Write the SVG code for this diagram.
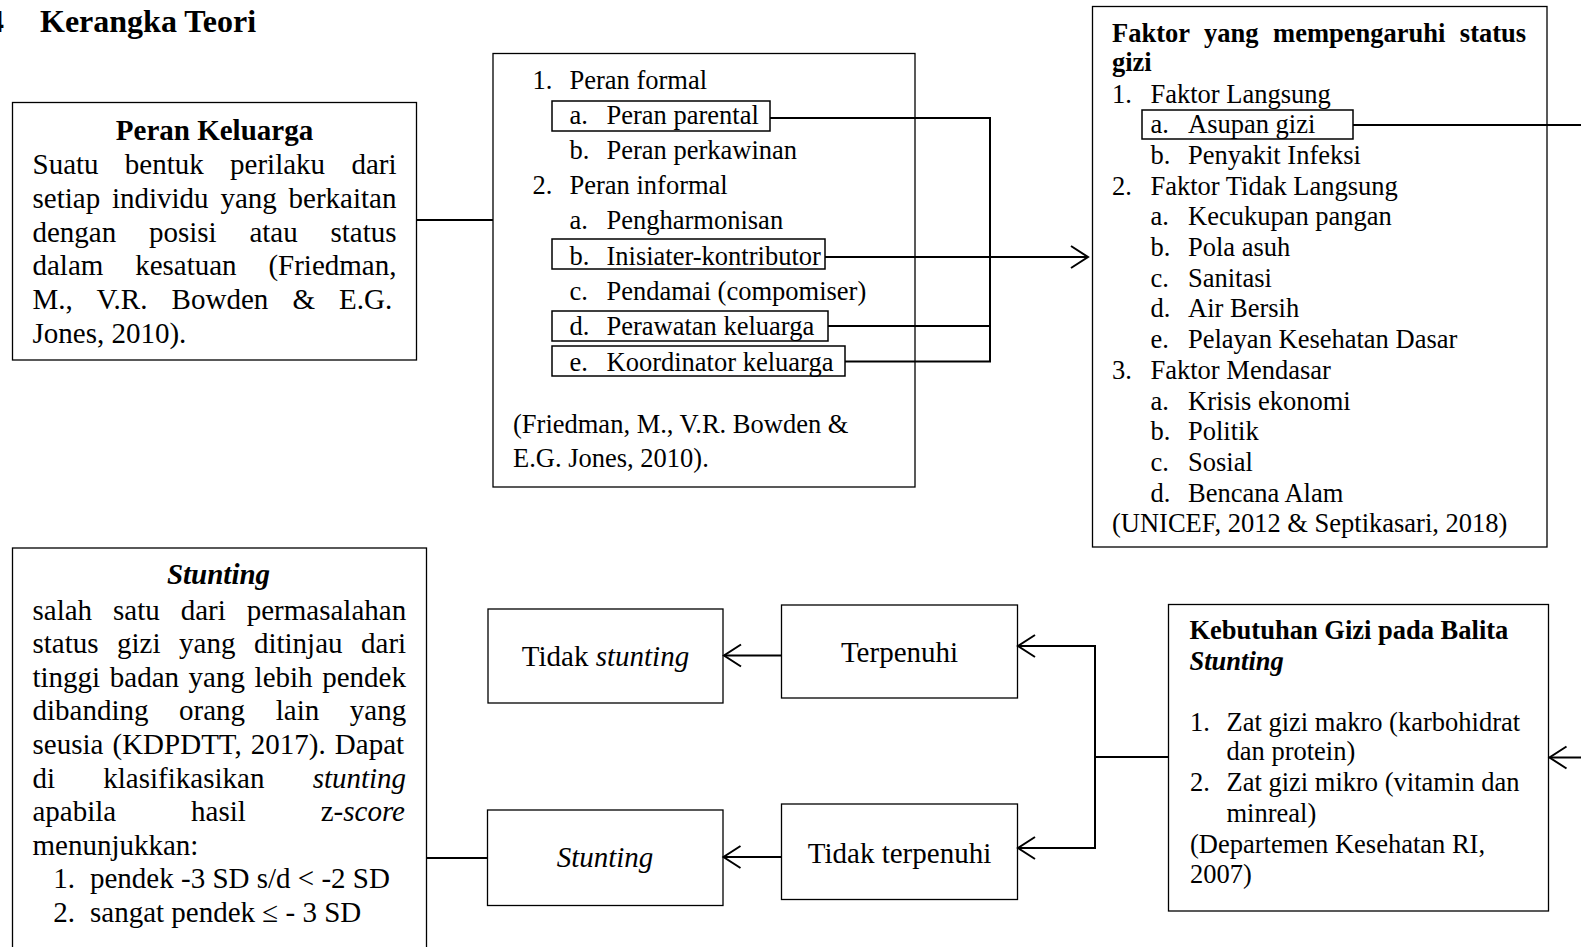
<svg xmlns="http://www.w3.org/2000/svg" width="1581" height="947" viewBox="0 0 1581 947">
<style>
.t{font-family:"Liberation Serif","Times New Roman",serif;fill:#000}
.s29{font-size:29px}
.s26{font-size:26.5px}
.b{font-weight:bold}
.i{font-style:italic}
.box{fill:#fff;stroke:#000;stroke-width:1.3}
.ibox{fill:none;stroke:#000;stroke-width:1.5}
.ln{fill:none;stroke:#000;stroke-width:2}
.mid{text-anchor:middle}
</style>
<defs>
<marker id="arr" markerWidth="24" markerHeight="26" refX="20" refY="13" orient="auto" markerUnits="userSpaceOnUse" viewBox="0 0 24 26">
<path d="M3,2 L20,13 L3,24" fill="none" stroke="#000" stroke-width="2"/>
</marker>
</defs>
<rect x="0" y="0" width="1581" height="947" fill="#fff"/>

<g id="title">
<text class="t b" x="-12" y="32" font-size="32">4</text>
<text class="t b" x="40" y="32" font-size="32">Kerangka Teori</text>
</g>

<g id="peran-keluarga">
<rect class="box" x="12.5" y="102.5" width="404" height="257.5"/>
<text class="t s29 b mid" x="214.5" y="140">Peran Keluarga</text>
<text class="t s29" x="32.5" y="174" style="word-spacing:19.05px">Suatu bentuk perilaku dari</text>
<text class="t s29" x="32.5" y="207.7" style="word-spacing:4.55px">setiap individu yang berkaitan</text>
<text class="t s29" x="32.5" y="241.5" style="word-spacing:25.5px">dengan posisi atau status</text>
<text class="t s29" x="32.5" y="275.2" style="word-spacing:24.55px">dalam kesatuan (Friedman,</text>
<text class="t s29" x="32.5" y="309" style="word-spacing:16.9px">M., V.R. Bowden &amp; E.G.</text>
<text class="t s29" x="32.5" y="342.7">Jones, 2010).</text>
</g>

<g id="peran-list">
<rect class="box" x="493" y="53.5" width="422" height="433.5"/>
<text class="t s26" x="532.5" y="88.5">1.</text>
<text class="t s26" x="569.5" y="88.5">Peran formal</text>
<rect class="ibox" x="552" y="101" width="218" height="30"/>
<text class="t s26" x="569.5" y="123.5">a.</text>
<text class="t s26" x="606.5" y="123.5">Peran parental</text>
<text class="t s26" x="569.5" y="158.5">b.</text>
<text class="t s26" x="606.5" y="158.5">Peran perkawinan</text>
<text class="t s26" x="532.5" y="194">2.</text>
<text class="t s26" x="569.5" y="194">Peran informal</text>
<text class="t s26" x="569.5" y="229.3">a.</text>
<text class="t s26" x="606.5" y="229.3">Pengharmonisan</text>
<rect class="ibox" x="552" y="239" width="273" height="30"/>
<text class="t s26" x="569.5" y="264.5">b.</text>
<text class="t s26" x="606.5" y="264.5">Inisiater-kontributor</text>
<text class="t s26" x="569.5" y="299.5">c.</text>
<text class="t s26" x="606.5" y="299.5">Pendamai (compomiser)</text>
<rect class="ibox" x="552" y="311" width="276" height="30"/>
<text class="t s26" x="569.5" y="335">d.</text>
<text class="t s26" x="606.5" y="335">Perawatan keluarga</text>
<rect class="ibox" x="552" y="346" width="293" height="30"/>
<text class="t s26" x="569.5" y="370.5">e.</text>
<text class="t s26" x="606.5" y="370.5">Koordinator keluarga</text>
<text class="t s26" x="513" y="432.5">(Friedman, M., V.R. Bowden &amp;</text>
<text class="t s26" x="513" y="467">E.G. Jones, 2010).</text>
</g>

<g id="faktor">
<rect class="box" x="1092.5" y="6.5" width="454.5" height="540.5"/>
<text class="t s26 b" x="1112" y="42" style="word-spacing:7.9px">Faktor yang mempengaruhi status</text>
<text class="t s26 b" x="1112" y="71">gizi</text>
<text class="t s26" x="1112" y="102.5">1.</text>
<text class="t s26" x="1150.5" y="102.5">Faktor Langsung</text>
<rect class="ibox" x="1142" y="110" width="211" height="29"/>
<text class="t s26" x="1150.5" y="133.2">a.</text>
<text class="t s26" x="1188" y="133.2">Asupan gizi</text>
<text class="t s26" x="1150.5" y="163.9">b.</text>
<text class="t s26" x="1188" y="163.9">Penyakit Infeksi</text>
<text class="t s26" x="1112" y="194.6">2.</text>
<text class="t s26" x="1150.5" y="194.6">Faktor Tidak Langsung</text>
<text class="t s26" x="1150.5" y="225.3">a.</text>
<text class="t s26" x="1188" y="225.3">Kecukupan pangan</text>
<text class="t s26" x="1150.5" y="256">b.</text>
<text class="t s26" x="1188" y="256">Pola asuh</text>
<text class="t s26" x="1150.5" y="286.7">c.</text>
<text class="t s26" x="1188" y="286.7">Sanitasi</text>
<text class="t s26" x="1150.5" y="317.4">d.</text>
<text class="t s26" x="1188" y="317.4">Air Bersih</text>
<text class="t s26" x="1150.5" y="348.1">e.</text>
<text class="t s26" x="1188" y="348.1">Pelayan Kesehatan Dasar</text>
<text class="t s26" x="1112" y="378.8">3.</text>
<text class="t s26" x="1150.5" y="378.8">Faktor Mendasar</text>
<text class="t s26" x="1150.5" y="409.5">a.</text>
<text class="t s26" x="1188" y="409.5">Krisis ekonomi</text>
<text class="t s26" x="1150.5" y="440.2">b.</text>
<text class="t s26" x="1188" y="440.2">Politik</text>
<text class="t s26" x="1150.5" y="470.9">c.</text>
<text class="t s26" x="1188" y="470.9">Sosial</text>
<text class="t s26" x="1150.5" y="501.6">d.</text>
<text class="t s26" x="1188" y="501.6">Bencana Alam</text>
<text class="t s26" x="1112" y="532.3">(UNICEF, 2012 &amp; Septikasari, 2018)</text>
</g>

<g id="stunting-def">
<rect class="box" x="12.5" y="548" width="414" height="420"/>
<text class="t s29 b i mid" x="218.5" y="584">Stunting</text>
<text class="t s29" x="32.5" y="619.5" style="word-spacing:13.7px">salah satu dari permasalahan</text>
<text class="t s29" x="32.5" y="653.1" style="word-spacing:11.25px">status gizi yang ditinjau dari</text>
<text class="t s29" x="32.5" y="686.7" style="word-spacing:2.35px">tinggi badan yang lebih pendek</text>
<text class="t s29" x="32.5" y="720.3" style="word-spacing:23.35px">dibanding orang lain yang</text>
<text class="t s29" x="32.5" y="753.9" style="word-spacing:1.9px">seusia (KDPDTT, 2017). Dapat</text>
<text class="t s29" x="32.5" y="787.5" style="word-spacing:41px">di klasifikasikan <tspan class="i">stunting</tspan></text>
<text class="t s29" x="32.5" y="821.1" style="word-spacing:67.6px">apabila hasil z-<tspan class="i">score</tspan></text>
<text class="t s29" x="32.5" y="854.7">menunjukkan:</text>
<text class="t s29" x="53.3" y="888.3">1.</text>
<text class="t s29" x="90" y="888.3">pendek -3 SD s/d &lt; -2 SD</text>
<text class="t s29" x="53.3" y="921.9">2.</text>
<text class="t s29" x="90" y="921.9">sangat pendek ≤ - 3 SD</text>
</g>

<g id="tidak-stunting">
<rect class="box" x="488" y="609" width="235" height="94"/>
<text class="t s29 mid" x="605.5" y="666">Tidak <tspan class="i">stunting</tspan></text>
</g>

<g id="terpenuhi">
<rect class="box" x="781.5" y="605" width="236" height="93"/>
<text class="t s29 mid" x="899.5" y="662">Terpenuhi</text>
</g>

<g id="stunting">
<rect class="box" x="487.5" y="810" width="235.5" height="95.5"/>
<text class="t s29 i mid" x="605" y="867">Stunting</text>
</g>

<g id="tidak-terpenuhi">
<rect class="box" x="781.5" y="804" width="236" height="95.5"/>
<text class="t s29 mid" x="899.5" y="863">Tidak terpenuhi</text>
</g>

<g id="kebutuhan">
<rect class="box" x="1168.5" y="604.5" width="380" height="306.5"/>
<text class="t s26 b" x="1189.5" y="638.5">Kebutuhan Gizi pada Balita</text>
<text class="t s26 b i" x="1189.5" y="669.5">Stunting</text>
<text class="t s26" x="1190" y="730.5">1.</text>
<text class="t s26" x="1226.5" y="730.5">Zat gizi makro (karbohidrat</text>
<text class="t s26" x="1226.5" y="760">dan protein)</text>
<text class="t s26" x="1190" y="791">2.</text>
<text class="t s26" x="1226.5" y="791">Zat gizi mikro (vitamin dan</text>
<text class="t s26" x="1226.5" y="821.5">minreal)</text>
<text class="t s26" x="1190" y="853">(Departemen Kesehatan RI,</text>
<text class="t s26" x="1190" y="883">2007)</text>
</g>

<g id="connectors">
<path class="ln" d="M416.5,220 H493"/>
<path class="ln" d="M770,118 H990 V361.5 H845"/>
<path class="ln" d="M828,326 H990"/>
<path class="ln" d="M825,257 H1088" marker-end="url(#arr)"/>
<path class="ln" d="M1353,125 H1581"/>
<path class="ln" d="M1581,757.5 H1549.5" marker-end="url(#arr)"/>
<path class="ln" d="M1168.5,757 H1095 M1095,646 V848"/>
<path class="ln" d="M1096,646 H1018" marker-end="url(#arr)"/>
<path class="ln" d="M1096,848 H1018" marker-end="url(#arr)"/>
<path class="ln" d="M781.5,655.5 H724" marker-end="url(#arr)"/>
<path class="ln" d="M781.5,857 H723.5" marker-end="url(#arr)"/>
<path class="ln" d="M487.5,858 H426.5"/>
</g>
</svg>
